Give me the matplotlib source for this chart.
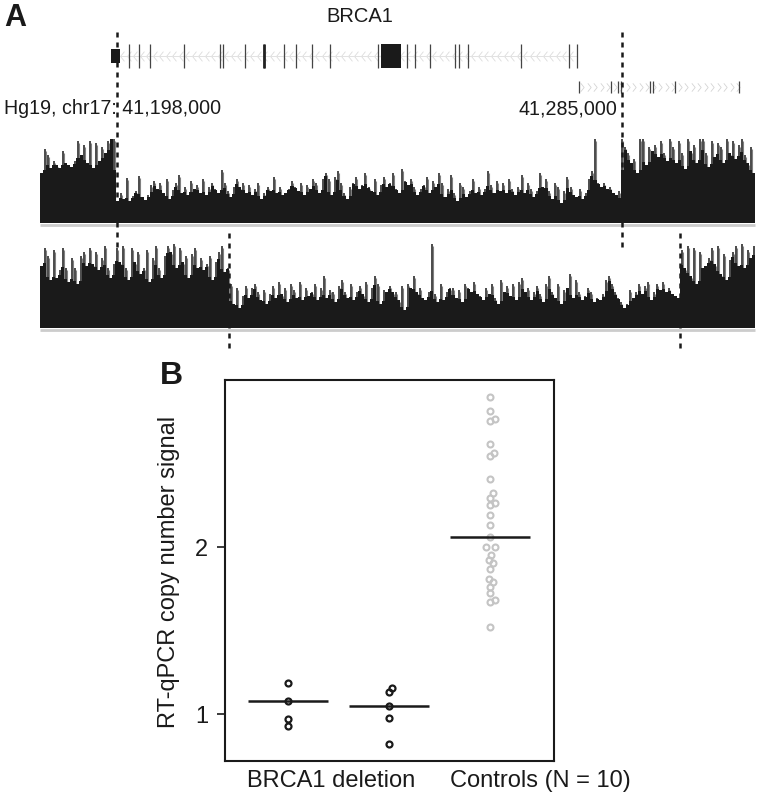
import numpy as np
import matplotlib
matplotlib.use("Agg")
import matplotlib.pyplot as plt
from matplotlib.path import Path

plt.rcParams['font.family'] = ['Liberation Sans', 'DejaVu Sans']

W, H = 759, 798
DARK = "#1a1a1a"

# coverage heights (pixels above the track baseline)
track1_left = [50,74,68,55,62,58,55,72,60,58,56,62,82,68,78,60,82,55,80,62,76,70,82,84,84]
track1_mid = [22,30,24,45,22,27,32,47,26,23,28,38,42,34,40,30,44,24,33,40,48,30,36,28,42,34,38,30,44,28,
              36,40,34,30,53,40,32,26,36,44,36,40,30,38,28,34,40,24,30,36,32,46,30,36,28,30,34,42,36,32,
              40,28,38,34,44,40,30,44,50,44,28,46,52,40,30,24,36,40,46,34,38,50,36,32,44,28,38,46,36,40,
              50,34,30,54,42,38,44,36,28,34,38,46,30,42,36,50,40,26,34,48,30,22,40,36,26,32,44,30,36,28,
              34,52,38,30,42,32,40,30,44,34,28,36,48,30,40,34,26,32,50,36,44,32,24,40,36,20,32,46,36,28,
              26,34,24,30,44,52,84,40,36,40,34,36,30,28,32]
track1_right = [84,76,70,60,64,50,84,84,58,76,72,78,66,82,70,62,84,76,60,82,70,54,84,72,78,60,84,84,70,56,
                82,66,80,76,60,84,70,82,64,78,84,68,60,76,50]
track2_left = [62,80,72,48,78,50,58,80,60,46,70,60,44,72,76,62,80,64,76,58,70,82,60,50,64,80,66,82,60,48,
               80,66,76,54,60,78,46,70,82,60,50,72,82,76,84,60,80,66,72,50,74,80,60,70,58,64,72,48,66,76,
               82,56,60]
track2_mid = [44,24,40,20,32,42,30,40,44,36,28,38,24,34,42,30,46,34,40,26,44,38,30,46,28,40,32,36,44,28,
              40,52,30,38,36,26,42,48,36,30,44,28,36,42,34,46,26,40,52,44,24,38,36,42,36,36,28,42,18,44,
              40,52,36,40,30,28,36,84,34,26,44,28,36,40,40,30,38,26,44,40,36,46,34,32,28,40,34,44,30,24,
              48,36,42,32,44,28,46,50,36,40,28,36,42,34,26,44,52,36,30,44,24,38,40,54,30,48,36,28,32,40,
              36,26,30,28,34,48,52,44,36,30,26,20,24,38,30,36,44,34,42,46,28,36,44,38,46,36,40,34,32,30]
track2_right = [78,60,82,52,80,44,76,60,62,70,80,64,82,54,74,48,68,76,82,62,84,60,78,70,82]

# gene model positions (figure pixels)
brca1_span = [119, 577]
brca1_exons = [129,139,150,184,220,223,245,264,284,296,312,330,378,407,415,430,455,459,468,521,569,577]
nbr2_span = [579, 739]
nbr2_exons = [579,611,618,621,650,653,675,739]

# boundaries of the deleted region
track1_bounds = [40, 116, 621, 755]
track2_bounds = [40, 229, 680, 755]

# panel B
group1_x = [1, 1, 1, 1]
group1_y = [1.187, 1.078, 0.97, 0.93]
group2_x = [2.026, 2, 2, 2, 2]
group2_y = [1.157, 1.13, 1.05, 0.978, 0.82]
group3_x = [3,3,3.046,3,3,3.04,3,3,3.026,3,3.046,3,3,3,3,2.957,3.046,3.013,2.987,3.026,3,2.987,3.026,3,3,3.046,3,3]
group3_y = [2.896,2.814,2.765,2.755,2.615,2.565,2.545,2.405,2.323,2.295,2.263,2.251,2.192,2.132,2.062,2.002,
            2.002,1.952,1.922,1.902,1.870,1.810,1.790,1.762,1.723,1.683,1.672,1.521]
means_x = [1, 2, 3]
means_y = [1.08, 1.05, 2.06]
xticklabels = ["BRCA1 deletion", "Controls (N = 10)"]

fig = plt.figure(figsize=(W / 100, H / 100), dpi=100)


def px_axes(left, top, right, bottom):
    return fig.add_axes([left / W, 1 - bottom / H, (right - left) / W, (bottom - top) / H])


def draw_track(base_y, segments, bounds):
    ax = px_axes(40, base_y - 95, 755, base_y)
    ax.set_xlim(40, 755)
    ax.set_ylim(0, 95)
    ax.axis("off")
    for vals, x0, x1 in zip(segments, bounds[:-1], bounds[1:]):
        vals = np.array(vals, dtype=float)
        edges = np.linspace(x0, x1, len(vals) + 1)
        mids = (edges[:-1] + edges[1:]) / 2
        # solid body under the narrow read spikes
        body = np.minimum(vals, np.minimum(np.roll(vals, 1), np.roll(vals, -1))) + 3
        body = np.minimum(body, vals)
        ax.vlines(mids + 1.0, 0, vals - 2, color="#808080", lw=0.8, zorder=1)
        ax.stairs(body, edges, fill=True, color=DARK, lw=0, zorder=2)
        ax.vlines(mids, 0, vals, color=DARK, lw=1.1, zorder=3)


draw_track(223, [track1_left, track1_mid, track1_right], track1_bounds)
draw_track(328, [track2_left, track2_mid, track2_right], track2_bounds)

# overlay in figure pixels for gene models, dashes and labels
top = fig.add_axes([0, 0, 1, 1], facecolor="none")
top.set_xlim(0, W)
top.set_ylim(H, 0)
top.axis("off")

for y in [225, 330]:
    top.plot([40, 755], [y, y], color="#cccccc", lw=2.0, solid_capstyle="butt")

chevron_l = Path([(0.4, 1), (-0.4, 0), (0.4, -1)], [Path.MOVETO, Path.LINETO, Path.LINETO])
chevron_r = Path([(-0.4, 1), (0.4, 0), (-0.4, -1)], [Path.MOVETO, Path.LINETO, Path.LINETO])

# BRCA1
chev_x = np.arange(brca1_span[0] + 3, brca1_span[1], 6.5)
top.plot(chev_x, [56] * len(chev_x), ls="none", marker=chevron_l, ms=7, mfc="none", mec="#dcdcdc", mew=0.6)
top.plot(brca1_span, [56, 56], color="#e2e2e2", lw=0.7)
top.vlines(brca1_exons, 44, 68, color="#444444", lw=0.9)
top.vlines(264, 44, 68, color="#222222", lw=2.0)
top.fill_between([110.5, 119.5], 49, 63, color=DARK, lw=0, zorder=3)
top.fill_between([381, 401], 44, 68, color=DARK, lw=0, zorder=3)

# neighbouring gene
chev_x = np.arange(nbr2_span[0] + 3, nbr2_span[1], 6.5)
top.plot(chev_x, [87] * len(chev_x), ls="none", marker=chevron_r, ms=6, mfc="none", mec="#d4d4d4", mew=0.6)
top.vlines(nbr2_exons, 81, 93, color="#444444", lw=0.9)

# deletion boundaries
for x in track1_bounds[1:3]:
    top.plot([x + 0.5, x + 0.5], [32, 248], color=DARK, lw=1.8, dashes=(2.0, 2.0), zorder=4)
for x in track2_bounds[1:3]:
    top.plot([x, x], [233, 348], color=DARK, lw=1.8, dashes=(2.0, 2.0), zorder=4)

top.text(4, 17.5, "A", fontsize=22, fontweight="bold", color=DARK, va="center", ha="left")
top.text(360, 17, "BRCA1", fontsize=14.5, color=DARK, va="center", ha="center")
top.text(4, 109, "Hg19, chr17: 41,198,000", fontsize=14.1, color=DARK, va="center", ha="left")
top.text(617, 109, "41,285,000", fontsize=14.1, color=DARK, va="center", ha="right")
top.text(160, 376, "B", fontsize=23, fontweight="bold", color=DARK, va="center", ha="left")

# panel B
ax = px_axes(225, 380, 554, 761)
ax.set_xlim(0.376, 3.634)
ax.set_ylim(0.72, 3.0)
for s in ax.spines.values():
    s.set_linewidth(1.5)
    s.set_color(DARK)
circle = dict(marker="o", ls="none", ms=4.3, mfc="none")
ax.plot(group1_x, group1_y, mec=DARK, mew=1.6, **circle)
ax.plot(group2_x, group2_y, mec=DARK, mew=1.6, **circle)
ax.plot(group3_x, group3_y, mec="#c4c4c4", mew=1.5, **circle)
ax.hlines(means_y, np.array(means_x) - 0.4, np.array(means_x) + 0.4, color=DARK, lw=1.8)
ax.set_yticks([1, 2])
ax.set_yticklabels(["1", "2"], fontsize=17, color=DARK)
ax.set_ylabel("RT-qPCR copy number signal", fontsize=17, color=DARK, va="center")
ax.yaxis.set_label_coords(-0.17, 0.497)
ax.set_xticks([])
ax.tick_params(axis="y", length=6, width=1.2, color=DARK, pad=6)
ax.text(1.426, 0.6, xticklabels[0], fontsize=17, color=DARK, ha="center", va="center")
ax.text(3.495, 0.6, xticklabels[1], fontsize=17, color=DARK, ha="center", va="center", clip_on=False)

fig.savefig("out.png", dpi=100)
